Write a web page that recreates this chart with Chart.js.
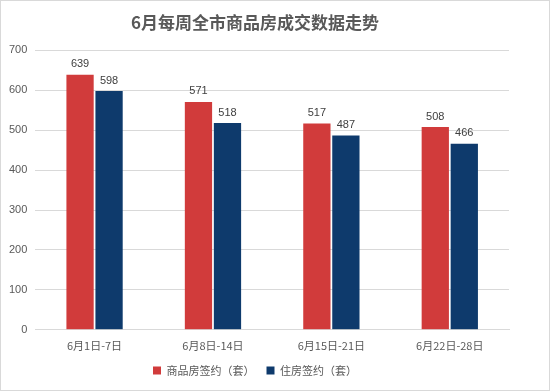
<!DOCTYPE html>
<html>
<head>
<meta charset="utf-8">
<script src="https://cdn.jsdelivr.net/npm/chart.js@4"></script>
<style>
  html, body { margin: 0; padding: 0; background: #fff; }
  #wrap { position: relative; width: 548px; height: 389px; border: 1px solid #d9d9d9; }
</style>
</head>
<body>
<div id="wrap"><canvas id="weeklyChart"></canvas></div>
<script>
const weeks = ['6月1日-7日', '6月8日-14日', '6月15日-21日', '6月22日-28日'];
const commercialSigned = [639, 571, 517, 508];
const residentialSigned = [598, 518, 487, 466];
const yTicks = [0, 100, 200, 300, 400, 500, 600, 700];

const valueLabels = {
    id: 'valueLabels',
    afterDatasetsDraw(chart) {
        const ctx = chart.ctx;
        ctx.save();
        ctx.font = '11px "Liberation Sans", Arial, sans-serif';
        ctx.fillStyle = '#404040';
        ctx.textAlign = 'center';
        ctx.textBaseline = 'bottom';
        chart.data.datasets.forEach((ds, i) => {
            chart.getDatasetMeta(i).data.forEach((bar, j) => {
                ctx.fillText(ds.data[j], bar.x, bar.y - 5);
            });
        });
        ctx.restore();
    }
};

new Chart(document.getElementById('weeklyChart').getContext('2d'), {
    type: 'bar',
    data: {
        labels: weeks,
        datasets: [
            { label: '商品房签约（套）', data: commercialSigned, backgroundColor: '#D13B3B' },
            { label: '住房签约（套）', data: residentialSigned, backgroundColor: '#0E3A6C' }
        ]
    },
    options: {
        responsive: true,
        maintainAspectRatio: false,
        animation: false,
        categoryPercentage: 0.49,
        barPercentage: 0.94,
        layout: { padding: { top: 4, left: 0, right: 40, bottom: 4 } },
        plugins: {
            title: {
                display: true,
                text: '6月每周全市商品房成交数据走势',
                color: '#595959',
                font: { size: 17, weight: 'bold', family: '"Noto Sans CJK SC", sans-serif' },
                padding: { top: 7, bottom: 18 }
            },
            legend: {
                position: 'bottom',
                labels: {
                    boxWidth: 8,
                    boxHeight: 8,
                    padding: 12,
                    color: '#595959',
                    font: { size: 11, family: '"Noto Sans CJK SC", sans-serif' }
                }
            },
            tooltip: { enabled: false }
        },
        scales: {
            x: {
                grid: { display: false },
                border: { color: '#d9d9d9' },
                ticks: { color: '#595959', padding: 1, font: { size: 11, family: '"Noto Sans CJK SC", sans-serif' } }
            },
            y: {
                min: 0,
                max: 700,
                afterBuildTicks(axis) { axis.ticks = yTicks.map((v) => ({ value: v })); },
                grid: { color: '#d9d9d9', drawTicks: false },
                border: { display: false },
                ticks: { color: '#595959', padding: 8, font: { size: 11, family: '"Liberation Sans", Arial, sans-serif' } }
            }
        }
    },
    plugins: [valueLabels]
});
</script>
</body>
</html>
